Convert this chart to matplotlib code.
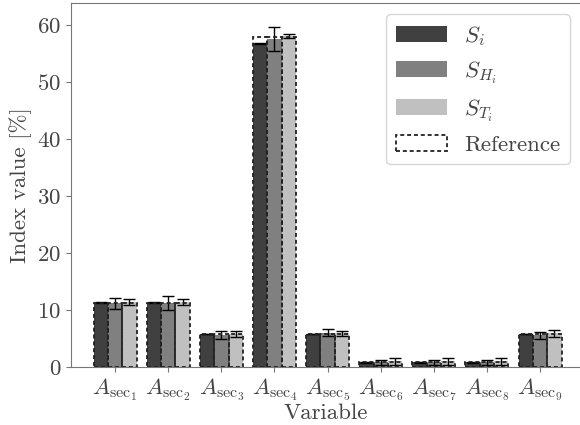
import matplotlib
matplotlib.use("Agg")
import matplotlib.pyplot as plt
import numpy as np
from matplotlib.patches import Patch

plt.rcParams['font.family'] = 'serif'
plt.rcParams['font.serif'] = ['cmr10']
plt.rcParams['mathtext.fontset'] = 'cm'
plt.rcParams['axes.unicode_minus'] = False
plt.rcParams['axes.formatter.use_mathtext'] = True
plt.rcParams['font.size'] = 16.5

labels = [r'$A_{\mathrm{sec}_%d}$' % i for i in range(1, 10)]
S_i = [11.3, 11.3, 5.8, 56.8, 5.8, 0.8, 0.8, 0.8, 5.8]
S_i_err = [0.05, 0.05, 0.05, 0.05, 0.05, 0.05, 0.05, 0.05, 0.05]
S_H = [11.2, 11.2, 5.7, 57.6, 6.0, 0.8, 0.8, 0.8, 5.6]
S_H_err = [1.0, 1.2, 0.7, 2.1, 0.6, 0.4, 0.4, 0.4, 0.6]
S_T = [11.4, 11.4, 5.8, 58.1, 5.9, 1.0, 1.0, 1.0, 5.9]
S_T_err = [0.6, 0.6, 0.5, 0.3, 0.4, 0.6, 0.6, 0.6, 0.6]
ref = [11.3, 11.3, 5.8, 57.9, 5.8, 0.8, 0.8, 0.8, 5.8]

fig = plt.figure(figsize=(5.8, 4.25), dpi=100)
ax = fig.add_axes([71/580, 58/425, 510/580, 364/425])

x = np.arange(len(labels))
w = 0.27
colors = ['#404040', '#808080', '#c0c0c0']
series = [(S_i, S_i_err), (S_H, S_H_err), (S_T, S_T_err)]
names = [r'$S_i$', r'$S_{H_i}$', r'$S_{T_i}$']
dash = (0, (2.2, 1.6))
for k, ((v, e), c) in enumerate(zip(series, colors)):
    ax.bar(x + (k - 1) * w, v, w, color=c, yerr=e, capsize=4,
           error_kw=dict(elinewidth=1.0, capthick=1.0, ecolor='black'), zorder=2)
for k in range(3):
    ax.bar(x + (k - 1) * w, ref, w, fill=False, edgecolor='#222222',
           linestyle=dash, linewidth=1.3, zorder=3)

ax.set_xticks(x)
ax.set_xticklabels(labels)
ax.set_xlim(-0.83, 8.77)
ax.set_ylim(0, 63.9)
ax.set_yticks([0, 10, 20, 30, 40, 50, 60])
ax.set_xlabel('Variable', labelpad=0)
ax.set_ylabel('Index value [%]')
for s in ax.spines.values():
    s.set_color('#777777')
ax.tick_params(colors='#777777', labelcolor='#444444')
ax.xaxis.label.set_color('#444444')
ax.yaxis.label.set_color('#444444')

handles = [Patch(facecolor=c) for c in colors] + \
    [Patch(facecolor='none', edgecolor='#222222', linestyle=dash, linewidth=1.3)]
leg = ax.legend(handles, names + ['Reference'], loc='upper right',
                handlelength=2.25, handletextpad=0.75)
for t in leg.get_texts():
    t.set_color('#444444')

fig.savefig('out.png', dpi=100)
